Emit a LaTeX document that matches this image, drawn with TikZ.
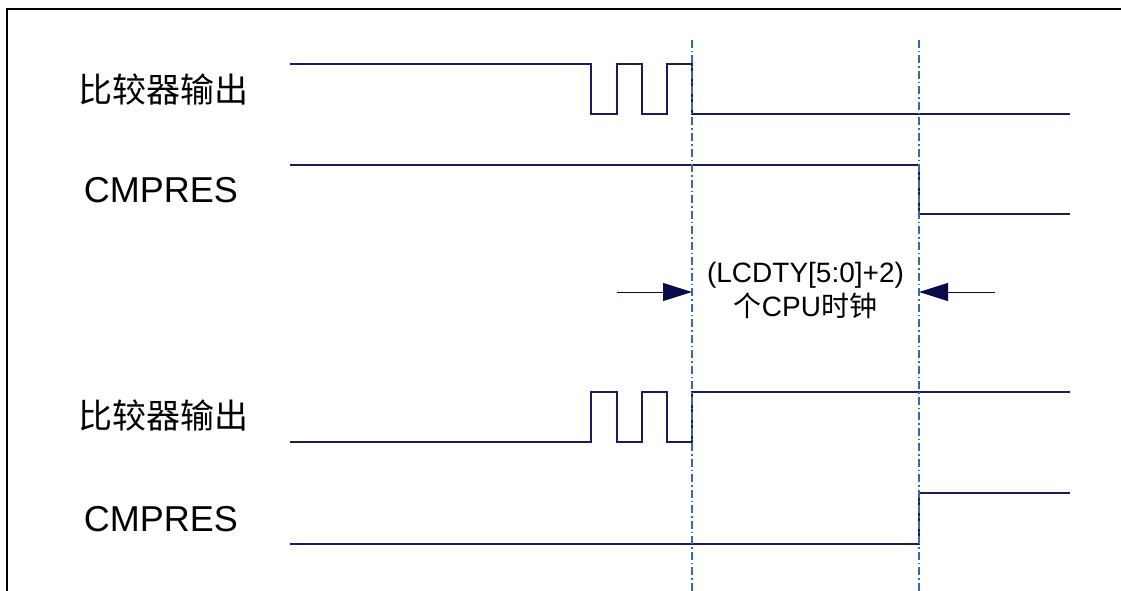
\documentclass[tikz,border=0pt]{standalone}
\usepackage{fontspec}
\setmainfont{Liberation Sans}
\newfontfamily\cjk{Noto Sans CJK SC}
\usetikzlibrary{arrows.meta}
\definecolor{Wave}{HTML}{1C1C55}
\definecolor{Guide}{HTML}{3A68B0}
\definecolor{Tip}{HTML}{0A0A4A}

\begin{document}
\begin{tikzpicture}[x=1pt, y=-1pt, >={Triangle[length=29pt,width=18pt]}]
\tikzset{wave/.style={draw=Wave, line width=1.1pt}, guide/.style={draw=Guide, line width=1.5pt, dash pattern=on 8pt off 3pt on 1.5pt off 3pt}, sig/.style={font=\fontsize{36}{40}\selectfont, inner sep=0pt}, cjksig/.style={sig, font=\fontsize{34}{40}\selectfont\cjk}, note/.style={font=\fontsize{28}{34}\selectfont, align=center, inner sep=0pt}, span/.style={->, color=Tip, line width=1pt}}
\useasboundingbox (0,0) rectangle (1121,591);
\draw[line width=2.2pt] (7,591) -- (7,9) -- (1125,9);
% signal names
\node[cjksig] (cmpA) at (163,90) {比较器输出};
\node[sig] (resA) at (161,190) {CMPRES};
\node[cjksig] (cmpB) at (163,416) {比较器输出};
\node[sig] (resB) at (161,519) {CMPRES};
% waveforms
\draw[wave] (290,64) -- (591,64) -- (591,114) -- (617,114) -- (617,64) -- (642,64) -- (642,114) -- (667,114) -- (667,64) -- (692,64) -- (692,114) -- (1070,114);
\draw[wave] (290,165) -- (919,165) -- (919,214) -- (1070,214);
\draw[wave] (290,442) -- (591,442) -- (591,392) -- (617,392) -- (617,442) -- (642,442) -- (642,392) -- (667,392) -- (667,442) -- (692,442) -- (692,392) -- (1070,392);
\draw[wave] (290,544) -- (919,544) -- (919,493) -- (1070,493);
% timing guides
\draw[guide] (692,40) -- (692,591);
\draw[guide] (919,40) -- (919,591);
\coordinate (edgeL) at (692,292);
\coordinate (edgeR) at (919,292);
\coordinate (tailL) at (617,292);
\coordinate (tailR) at (995,292);
\draw[span] (tailL) -- (edgeL);
\draw[span] (tailR) -- (edgeR);
\node[note] (delay) at (805.5,290) {(LCDTY[5:0]+2)\\{\cjk 个}CPU{\cjk 时钟}};
\end{tikzpicture}
\end{document}
